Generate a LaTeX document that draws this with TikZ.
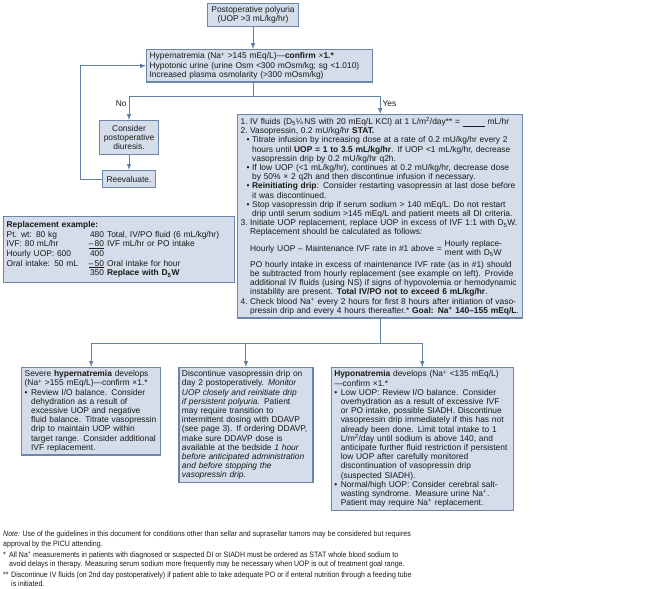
\documentclass[tikz,border=0pt]{standalone}
\usepackage{fontspec}
\setmainfont{Liberation Sans}
\newfontfamily\notefamily{Liberation Sans}[FakeStretch=0.9]
\usetikzlibrary{positioning,arrows}

\definecolor{boxfill}{RGB}{212,221,233}
\definecolor{boxline}{RGB}{108,133,168}
\definecolor{linkcol}{RGB}{98,127,166}
\definecolor{inkcol}{RGB}{25,25,25}

\newcommand{\boxfont}{\fontsize{8.4bp}{9.2bp}\selectfont}
\newcommand{\stepno}[1]{\makebox[9.5bp][l]{#1}}
\newcommand{\stepgap}{\hspace*{9.5bp}}
\newcommand{\subbul}{\hspace*{6bp}\makebox[5.5bp][l]{•}}
\newcommand{\subgap}{\hspace*{11.5bp}}
\newcommand{\pointbul}{\makebox[6.5bp][l]{•}}
\newcommand{\pointgap}{\hspace*{6.5bp}}

\tikzset{
  block/.style={
    draw=boxline,
    fill=boxfill,
    line width=1.3bp,
    rectangle,
    inner xsep=3bp,
    inner ysep=3bp,
    font=\boxfont,
    text=inkcol,
    align=left
  },
  cblock/.style={
    block,
    inner xsep=4bp,
    align=center
  },
  arrowline/.style={->,>=latex,draw=linkcol,line width=1bp},
  link/.style={draw=linkcol,line width=1bp},
  branchlabel/.style={font=\boxfont,text=inkcol,inner sep=2bp},
  notes/.style={font=\notefamily\fontsize{7.8bp}{9.2bp}\selectfont,text=inkcol,align=left,inner sep=0pt}
}

\begin{document}
\begin{tikzpicture}[x=1bp,y=-1bp]
\useasboundingbox (0,0) rectangle (650,589);

% start
\node[cblock, anchor=north] (polyuria) at (253,3) {Postoperative polyuria\\(UOP >3 mL/kg/hr)};
\node[block, anchor=north west, text width=220bp] (hyper) at (146,49) {Hypernatremia (Na\textsuperscript{+} >145 mEq/L)—\textbf{confirm} ×\textbf{1.*}\\
Hypotonic urine (urine Osm <300 mOsm/kg; sg <1.010)\\
Increased plasma osmolarity (>300 mOsm/kg)};
\draw[arrowline] (polyuria.south) -- (polyuria.south |- hyper.north);

% no branch
\node[cblock, inner ysep=4.5bp, anchor=north] (diuresis) at (129,120) {Consider\\postoperative\\diuresis.};
\node[cblock, inner ysep=5.5bp, below = 15bp of diuresis] (reeval) {Reevaluate.};
\draw[arrowline] (diuresis) -- (reeval);

% yes branch
\node[block, anchor=north west, text width=279bp] (fluids) at (237,114) {%
\stepno{1.}IV fluids (D\textsubscript{5}¼\,NS with 20 mEq/L KCl) at 1 L/m\textsuperscript{2}/day** = \underline{\hspace{22bp}} mL/hr\\
\stepno{2.}Vasopressin, 0.2 mU/kg/hr \textbf{STAT.}\\
\subbul Titrate infusion by increasing dose at a rate of 0.2 mU/kg/hr every 2\\
\subgap hours until \textbf{UOP = 1 to 3.5 mL/kg/hr}. If UOP <1 mL/kg/hr, decrease\\
\subgap vasopressin drip by 0.2 mU/kg/hr q2h.\\
\subbul If low UOP (<1 mL/kg/hr), continues at 0.2 mU/kg/hr, decrease dose\\
\subgap by 50\% × 2 q2h and then discontinue infusion if necessary.\\
\subbul \textbf{Reinitiating drip}: Consider restarting vasopressin at last dose before\\
\subgap it was discontinued.\\
\subbul Stop vasopressin drip if serum sodium > 140 mEq/L. Do not restart\\
\subgap drip until serum sodium >145 mEq/L and patient meets all DI criteria.\\
\stepno{3.}Initiate UOP replacement, replace UOP in excess of IVF 1:1 with D\textsubscript{5}W.\\
\stepgap Replacement should be calculated as follows:\\[7bp]
\stepgap Hourly UOP – Maintenance IVF rate in \#1 above = \raisebox{0pt}[0pt][0pt]{\begin{tabular}[c]{@{}l@{}}Hourly replace-\\ment with D\textsubscript{5}W\end{tabular}}\\[7bp]
\stepgap PO hourly intake in excess of maintenance IVF rate (as in \#1) should\\
\stepgap be subtracted from hourly replacement (see example on left). Provide\\
\stepgap additional IV fluids (using NS) if signs of hypovolemia or hemodynamic\\
\stepgap instability are present. \textbf{Total IV/PO not to exceed 6 mL/kg/hr}.\\
\stepno{4.}Check blood Na\textsuperscript{+} every 2 hours for first 8 hours after initiation of vaso-\\
\stepgap pressin drip and every 4 hours thereafter.* \textbf{Goal: Na\textsuperscript{+} 140–155 mEq/L}.};

% branching
\coordinate (branchy) at (0,97);
\coordinate (branch) at (polyuria.south |- branchy);
\draw[link] (polyuria.south |- hyper.south) -- (branch);
\draw[arrowline] (branch) -| (diuresis.north) node[branchlabel, pos=0.65, left] {No};
\draw[arrowline] (branch) -| (fluids.north) node[branchlabel, pos=0.7, right] {Yes};

% back to the start
\coordinate (loopx) at (80,0);
\draw[arrowline] (reeval.west) -- (reeval.west -| loopx) |- (hyper.west);

% worked example
\node[block, anchor=north west, inner ysep=4bp, text width=225bp] (example) at (3,216) {%
\renewcommand{\arraystretch}{1.05}%
\begin{tabular}{@{}p{82bp}@{}r@{\hspace{3bp}}l@{}}
\multicolumn{3}{@{}l@{}}{\textbf{Replacement example:}}\\
Pt. wt: 80 kg & 480 & Total, IV/PO fluid (6 mL/kg/hr)\\
IVF: 80 mL/hr & \underline{–\,80} & IVF mL/hr or PO intake\\
Hourly UOP: 600 & 400 & \\
Oral intake: 50 mL & \underline{–\,50} & Oral intake for hour\\
 & 350 & \textbf{Replace with D\textsubscript{5}W}
\end{tabular}};

% outcomes
\node[block, anchor=north west, text width=133bp] (severe) at (21,367) {%
Severe \textbf{hypernatremia} develops\\
(Na\textsuperscript{+} >155 mEq/L)—confirm ×1.*\\
\pointbul Review I/O balance. Consider\\
\pointgap dehydration as a result of\\
\pointgap excessive UOP and negative\\
\pointgap fluid balance. Titrate vasopressin\\
\pointgap drip to maintain UOP within\\
\pointgap target range. Consider additional\\
\pointgap IVF replacement.};

\node[block, text width=128bp, right = 17bp of severe.north east, anchor=north west] (stopdrip) {%
Discontinue vasopressin drip on\\
day 2 postoperatively. \textit{Monitor}\\
\textit{UOP closely and reinitiate drip}\\
\textit{if persistent polyuria.} Patient\\
may require transition to\\
intermittent dosing with DDAVP\\
(see page 3). If ordering DDAVP,\\
make sure DDAVP dose is\\
available at the bedside \textit{1 hour}\\
\textit{before anticipated administration}\\
\textit{and before stopping the}\\
\textit{vasopressin drip.}};

\node[block, text width=176bp, right = 17bp of stopdrip.north east, anchor=north west] (hypona) {%
\textbf{Hyponatremia} develops (Na\textsuperscript{+} <135 mEq/L)\\
—confirm ×1.*\\
\pointbul Low UOP: Review I/O balance. Consider\\
\pointgap overhydration as a result of excessive IVF\\
\pointgap or PO intake, possible SIADH. Discontinue\\
\pointgap vasopressin drip immediately if this has not\\
\pointgap already been done. Limit total intake to 1\\
\pointgap L/m\textsuperscript{2}/day until sodium is above 140, and\\
\pointgap anticipate further fluid restriction if persistent\\
\pointgap low UOP after carefully monitored\\
\pointgap discontinuation of vasopressin drip\\
\pointgap (suspected SIADH).\\
\pointbul Normal/high UOP: Consider cerebral salt-\\
\pointgap wasting syndrome. Measure urine Na\textsuperscript{+}.\\
\pointgap Patient may require Na\textsuperscript{+} replacement.};

\coordinate (forky) at (0,343);
\draw[link] (fluids.south) -- (fluids.south |- forky);
\draw[arrowline] (fluids.south |- forky) -| (severe.north);
\draw[arrowline] (fluids.south |- forky) -| (stopdrip.north);
\draw[arrowline] (fluids.south |- forky) -| (hypona.north);

% footnotes
\node[notes, anchor=north west] (footer) at (3,531) {%
\textit{Note:} Use of the guidelines in this document for conditions other than sellar and suprasellar tumors may be considered but requires\\
approval by the PICU attending.\\[2bp]
\makebox[6bp][l]{*}All Na\textsuperscript{+} measurements in patients with diagnosed or suspected DI or SIADH must be ordered as STAT whole blood sodium to\\
\hspace*{6bp}avoid delays in therapy. Measuring serum sodium more frequently may be necessary when UOP is out of treatment goal range.\\[2bp]
\makebox[8bp][l]{**}Discontinue IV fluids (on 2nd day postoperatively) if patient able to take adequate PO or if enteral nutrition through a feeding tube\\
\hspace*{8bp}is initiated.};

\end{tikzpicture}
\end{document}
